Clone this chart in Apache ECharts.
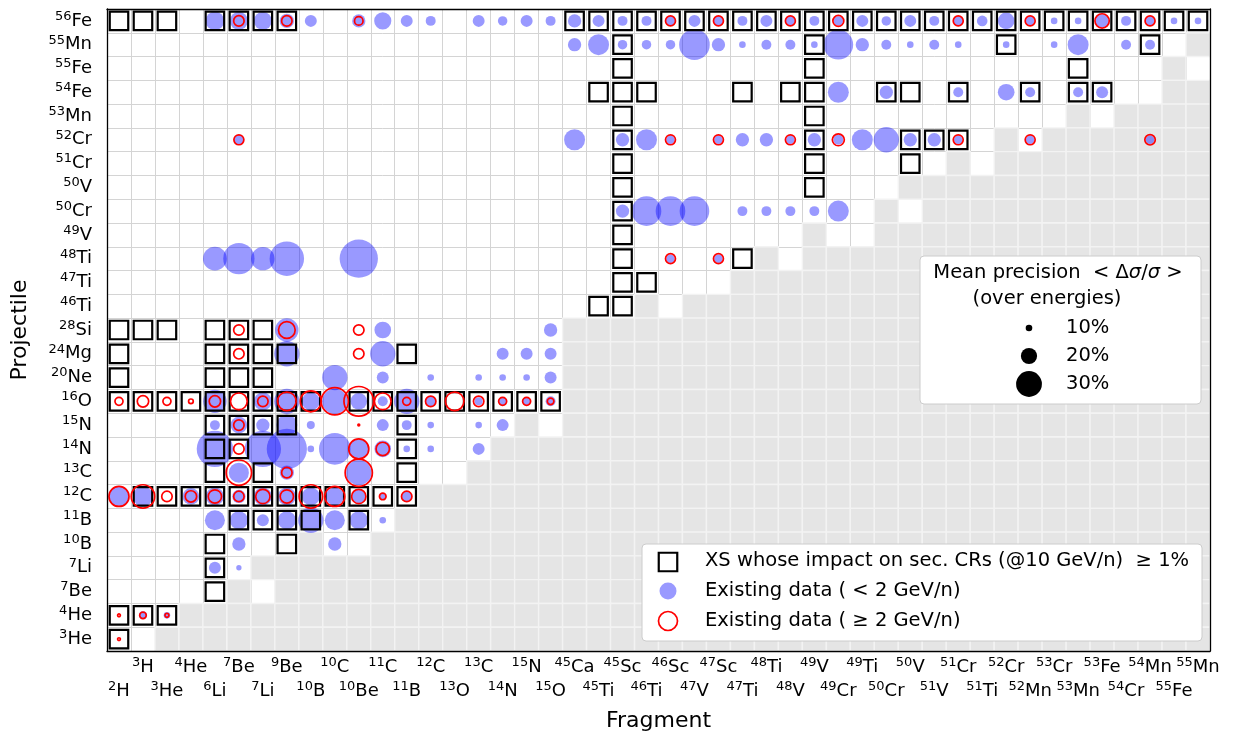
<!DOCTYPE html>
<html>
<head>
<meta charset="utf-8">
<script src="https://cdn.jsdelivr.net/npm/echarts@6/dist/echarts.min.js"></script>
<style>
html, body { margin: 0; padding: 0; background: #fff; }
#main { width: 1234px; height: 738px; }
</style>
</head>
<body>
<div id="main"></div>
<script>
// fragments (x axis), left to right
var fragments = ['2H','3H','3He','4He','6Li','7Be','7Li','9Be','10B','10C','10Be','11C','11B','12C','13O','13C','14N','15N','15O',
  '45Ca','45Ti','45Sc','46Ti','46Sc','47V','47Sc','47Ti','48Ti','48V','49V','49Cr','49Ti','50Cr','50V','51V','51Cr','51Ti',
  '52Cr','52Mn','53Cr','53Mn','53Fe','54Cr','54Mn','55Fe','55Mn'];

// projectiles (y axis), top to bottom
var projectiles = ['56Fe','55Mn','55Fe','54Fe','53Mn','52Cr','51Cr','50V','50Cr','49V','48Ti','47Ti','46Ti',
  '28Si','24Mg','20Ne','16O','15N','14N','13C','12C','11B','10B','7Li','7Be','4He','3He'];

// grey (not relevant) cells, one string per projectile, one char per fragment
var greyMask = [
  '0000000000 0000000000 0000000000 0000000000 000000',
  '0000000000 0000000000 0000000000 0000000000 000001',
  '0000000000 0000000000 0000000000 0000000000 000010',
  '0000000000 0000000000 0000000000 0000000000 000011',
  '0000000000 0000000000 0000000000 0000000000 101111',
  '0000000000 0000000000 0000000000 0000000101 111111',
  '0000000000 0000000000 0000000000 0000010111 111111',
  '0000000000 0000000000 0000000000 0001111111 111111',
  '0000000000 0000000000 0000000000 0010111111 111111',
  '0000000000 0000000000 0000000001 0011111111 111111',
  '0000000000 0000000000 0000000101 1111111111 111111',
  '0000000000 0000000000 0000001111 1111111111 111111',
  '0000000000 0000000000 0010111111 1111111111 111111',
  '0000000000 0000000001 1111111111 1111111111 111111',
  '0000000000 0000000001 1111111111 1111111111 111111',
  '0000000000 0000000001 1111111111 1111111111 111111',
  '0000000000 0000000001 1111111111 1111111111 111111',
  '0000000000 0000000101 1111111111 1111111111 111111',
  '0000000000 0000001111 1111111111 1111111111 111111',
  '0000000000 0000011111 1111111111 1111111111 111111',
  '0000000000 0001111111 1111111111 1111111111 111111',
  '0000000000 0011111111 1111111111 1111111111 111111',
  '0000000010 0111111111 1111111111 1111111111 111111',
  '0000001111 1111111111 1111111111 1111111111 111111',
  '0000010111 1111111111 1111111111 1111111111 111111',
  '0001111111 1111111111 1111111111 1111111111 111111',
  '0011111111 1111111111 1111111111 1111111111 111111'
];

// XS whose impact on secondary CRs >= 1%  [projectile, fragments]
var xsImpact = [
  ['56Fe', ['2H','3H','3He','6Li','7Be','7Li','9Be','45Ca','45Ti','45Sc','46Ti','46Sc','47V','47Sc','47Ti','48Ti','48V','49V',
            '49Cr','49Ti','50Cr','50V','51V','51Cr','51Ti','52Cr','52Mn','53Cr','53Mn','53Fe','54Cr','54Mn','55Fe','55Mn']],
  ['55Mn', ['45Sc','49V','52Cr','54Mn']],
  ['55Fe', ['45Sc','49V','53Mn']],
  ['54Fe', ['45Ti','45Sc','46Ti','47Ti','48V','49V','50Cr','50V','51Cr','52Mn','53Mn','53Fe']],
  ['53Mn', ['45Sc','49V']],
  ['52Cr', ['45Sc','49V','50V','51V','51Cr']],
  ['51Cr', ['45Sc','49V','50V']],
  ['50V',  ['45Sc','49V']],
  ['50Cr', ['45Sc']],
  ['49V',  ['45Sc']],
  ['48Ti', ['45Sc','47Ti']],
  ['47Ti', ['45Sc','46Ti']],
  ['46Ti', ['45Ti','45Sc']],
  ['28Si', ['2H','3H','3He','6Li','7Be','7Li']],
  ['24Mg', ['2H','6Li','7Be','7Li','9Be','11B']],
  ['20Ne', ['2H','6Li','7Be','7Li']],
  ['16O',  ['2H','3H','3He','4He','6Li','7Be','7Li','9Be','10B','10Be','11C','11B','12C','13O','13C','14N','15N','15O']],
  ['15N',  ['6Li','7Be','7Li','9Be','11B']],
  ['14N',  ['6Li','7Be','11B']],
  ['13C',  ['6Li','7Li','11B']],
  ['12C',  ['3H','3He','4He','6Li','7Be','7Li','9Be','10B','10C','10Be','11C','11B']],
  ['11B',  ['7Be','7Li','9Be','10B','10Be']],
  ['10B',  ['6Li','9Be']],
  ['7Li',  ['6Li']],
  ['7Be',  ['6Li']],
  ['4He',  ['2H','3H','3He']],
  ['3He',  ['2H']]
];

// existing data < 2 GeV/n : [projectile, [fragment, mean precision %], ...]
var lowEnergy = [
  ['56Fe', [['6Li',22.5],['7Be',22],['7Li',22],['9Be',18],['10B',15.6],['10Be',17],['11C',21],['11B',15.6],['12C',13.5],
            ['13C',15.6],['14N',13],['15N',15.6],['15O',13.5],['45Ca',17],['45Ti',15.6],['45Sc',13.5],['46Ti',13.5],['46Sc',13],
            ['47V',15.6],['47Sc',13],['47Ti',13.5],['48Ti',15.6],['48V',13],['49V',13.5],['49Cr',13],['49Ti',15.6],['50Cr',13],
            ['50V',15.6],['51V',13.5],['51Cr',13],['51Ti',14.2],['52Cr',20.5],['52Mn',12.5],['53Cr',10],['53Mn',10],['53Fe',17],
            ['54Cr',13.5],['54Mn',12.5],['55Fe',10],['55Mn',10]]],
  ['55Mn', [['45Ca',17],['45Ti',25],['45Sc',13],['46Ti',13],['46Sc',13],['47V',35],['47Sc',17],['47Ti',10],['48Ti',13.5],
            ['48V',13.5],['49V',10],['49Cr',34],['49Ti',17],['50Cr',13.5],['50V',10],['51V',13.5],['51Cr',10],['52Cr',10],
            ['53Cr',10],['53Mn',25],['54Cr',13.5],['54Mn',13.5]]],
  ['54Fe', [['49Cr',25],['50Cr',17],['51Cr',13.5],['52Cr',20.5],['52Mn',13.5],['53Mn',13.5],['53Fe',15.6]]],
  ['52Cr', [['7Be',13.5],['45Ca',25],['45Sc',17],['46Ti',25],['46Sc',12],['47Sc',12],['47Ti',17],['48Ti',17],['48V',12],
            ['49V',17],['49Cr',13.5],['49Ti',25],['50Cr',29.5],['50V',17],['51V',17],['51Cr',12],['52Mn',12],['54Mn',12]]],
  ['50Cr', [['45Sc',17],['46Ti',34],['46Sc',34],['47V',34],['47Ti',13.5],['48Ti',13.5],['48V',13.5],['49V',13.5],['49Cr',25]]],
  ['48Ti', [['6Li',28],['7Be',35.7],['7Li',27.5],['9Be',39],['10Be',43],['46Sc',12],['47Sc',12]]],
  ['28Si', [['9Be',27.5],['11C',20.5],['15O',17]]],
  ['24Mg', [['9Be',29.5],['11C',29.5],['14N',15.6],['15N',15.6],['15O',15.6]]],
  ['20Ne', [['10C',29.5],['11C',15.6],['12C',10],['13C',10],['14N',10],['15N',10],['15O',15.6]]],
  ['16O',  [['6Li',27.5],['7Li',22],['9Be',29.5],['10B',22],['10C',29.5],['10Be',20.5],['11C',13.5],['11B',29.5],['12C',13.5],
            ['13C',11.5],['14N',11.5],['15N',11],['15O',13.5]]],
  ['15N',  [['6Li',13.5],['7Be',20.5],['7Li',17],['9Be',25],['10B',11.5],['11C',15.6],['11B',13.5],['12C',10],['13C',10],['14N',15.6]]],
  ['14N',  [['6Li',41],['7Li',41],['9Be',45],['10B',10],['10C',36],['10Be',24],['11C',20.5],['11B',10],['12C',10],['13C',15.6]]],
  ['13C',  [['7Be',24],['9Be',18],['10Be',29.5]]],
  ['12C',  [['2H',24],['3H',24],['4He',20.5],['6Li',22],['7Be',17],['7Li',22],['9Be',22],['10B',22],['10C',22],['10Be',17],
            ['11C',10],['11B',13.5]]],
  ['11B',  [['6Li',24],['7Be',22],['7Li',15.6],['9Be',22],['10B',29.5],['10C',24],['10Be',22],['11C',10]]],
  ['10B',  [['7Be',17],['10C',17]]],
  ['7Li',  [['6Li',15.6],['7Be',8.7]]],
  ['4He',  [['3H',11.5],['3He',10]]]
];

// existing data >= 2 GeV/n
var highEnergy = [
  ['56Fe', [['7Be',14],['9Be',14],['10Be',12],['46Sc',13.5],['47Sc',13.5],['48V',13.5],['49Cr',14.5],['51Cr',13.5],
            ['52Mn',13.5],['53Fe',18],['54Mn',13.5]]],
  ['52Cr', [['7Be',13.5],['46Sc',13.5],['47Sc',13.5],['48V',13.5],['49Cr',15.6],['51Cr',13.5],['52Mn',13.5],['54Mn',14]]],
  ['48Ti', [['46Sc',13.5],['47Sc',13.5]]],
  ['28Si', [['7Be',14],['9Be',20.5],['10Be',14]]],
  ['24Mg', [['7Be',14],['10Be',14]]],
  ['16O',  [['2H',11.5],['3H',15],['3He',11.5],['4He',8],['6Li',15],['7Be',20.5],['7Li',14],['9Be',22.5],['10B',25],
            ['10C',31.5],['10Be',34],['11C',20.5],['11B',11.5],['12C',14],['13O',22.5],['13C',14],['14N',11.5],['15N',11.5],['15O',10]]],
  ['15N',  [['7Be',14],['10Be',5]]],
  ['14N',  [['7Be',14],['10Be',24],['11C',17]]],
  ['13C',  [['7Be',29.5],['9Be',14],['10Be',31.5]]],
  ['12C',  [['2H',24],['3H',27.5],['3He',14],['4He',15],['6Li',17],['7Be',14],['7Li',18],['9Be',17],['10B',27.5],
            ['10C',24],['10Be',18],['11C',10],['11B',14]]],
  ['4He',  [['2H',6],['3H',10],['3He',7.3]]],
  ['3He',  [['2H',6]]]
];

// size legend values (%)
var precisionLegend = [10, 20, 30];

var FONT = 'DejaVu Sans';
var BLUE = 'rgba(0,0,255,0.4)';
var LEG_FS = 19.5;

// marker diameter (px) from mean precision (%)
function precSize(p) {
  return 2 * Math.max(0.48 * p - 1.5, 0.9);
}

function isoLabel(v) {
  var m = /^(\d+)(.*)$/.exec(v);
  return '{s|' + m[1] + '}{e|' + m[2] + '}';
}

var labelRich = {
  s: { fontSize: 13, lineHeight: 10, verticalAlign: 'top', fontFamily: FONT, color: '#000' },
  e: { fontSize: 18, lineHeight: 22, fontFamily: FONT, color: '#000' }
};

// build series data
var greyData = [];
greyMask.forEach(function (row, i) {
  var s = row.replace(/ /g, '');
  for (var c = 0; c < s.length; c++) {
    if (s.charAt(c) === '1') greyData.push([fragments[c], projectiles[i]]);
  }
});

var squareData = [];
xsImpact.forEach(function (r) {
  r[1].forEach(function (f) { squareData.push([f, r[0]]); });
});

function flatten(list) {
  var out = [];
  list.forEach(function (r) {
    r[1].forEach(function (d) { out.push([d[0], r[0], d[1]]); });
  });
  return out;
}
var blueData = flatten(lowEnergy);
var redData = flatten(highEnergy);

var chart = echarts.init(document.getElementById('main'));

var gridL = 107, gridT = 9, gridW = 1103, gridH = 642;
var cellW = gridW / fragments.length, cellH = gridH / projectiles.length;

var axisLineStyle = { color: '#000', width: 1.3 };
var tickStyle = { color: '#000', width: 1.2 };

var option = {
  animation: false,
  backgroundColor: '#fff',
  grid: { left: gridL, top: gridT, width: gridW, height: gridH },
  xAxis: [
    {
      type: 'category', data: fragments, position: 'bottom', z: 10,
      axisLine: { lineStyle: axisLineStyle },
      axisTick: { length: 5, interval: 0, lineStyle: tickStyle },
      splitLine: { show: false },
      axisLabel: {
        interval: function (i) { return i % 2 === 0; },
        margin: 29, formatter: isoLabel, rich: labelRich
      },
      name: 'Fragment', nameLocation: 'middle', nameGap: 59,
      nameTextStyle: { fontFamily: FONT, fontSize: 22, color: '#000' }
    },
    {
      type: 'category', data: fragments, position: 'bottom', z: 10,
      axisLine: { show: false }, axisTick: { show: false }, splitLine: { show: false },
      axisLabel: {
        interval: function (i) { return i % 2 === 1; },
        margin: 5, formatter: isoLabel, rich: labelRich
      }
    },
    {
      type: 'category', data: fragments, position: 'top', z: 10,
      axisLine: { lineStyle: axisLineStyle },
      axisTick: { length: 4, interval: 0, lineStyle: tickStyle },
      axisLabel: { show: false }, splitLine: { show: false }
    },
    {
      // grid lines only, under the cells
      type: 'category', data: fragments, position: 'bottom', z: 0,
      axisLine: { show: false }, axisTick: { show: false }, axisLabel: { show: false },
      splitLine: { show: true, interval: 0, lineStyle: { color: '#d4d4d4', width: 1 } }
    }
  ],
  yAxis: [
    {
      type: 'category', data: projectiles, inverse: true, position: 'left', z: 10,
      axisLine: { lineStyle: axisLineStyle },
      axisTick: { length: 4, interval: 0, lineStyle: tickStyle },
      splitLine: { show: false },
      axisLabel: { interval: 0, margin: 15, formatter: isoLabel, rich: labelRich },
      name: 'Projectile', nameLocation: 'middle', nameGap: 76, nameRotate: 90,
      nameTextStyle: { fontFamily: FONT, fontSize: 22, color: '#000' }
    },
    {
      type: 'category', data: projectiles, inverse: true, position: 'right', z: 10,
      axisLine: { lineStyle: axisLineStyle },
      axisTick: { length: 4, interval: 0, lineStyle: tickStyle },
      axisLabel: { show: false }, splitLine: { show: false }
    },
    {
      type: 'category', data: projectiles, inverse: true, position: 'left', z: 0,
      axisLine: { show: false }, axisTick: { show: false }, axisLabel: { show: false },
      splitLine: { show: true, interval: 0, lineStyle: { color: '#d4d4d4', width: 1 } }
    }
  ],
  series: [
    {
      name: 'grey', type: 'scatter', z: 1, silent: true,
      symbol: 'rect', symbolSize: [cellW, cellH],
      itemStyle: { color: '#e5e5e5', borderColor: '#f3f3f3', borderWidth: 1.4, opacity: 1 },
      data: greyData
    },
    {
      name: 'Existing data ( < 2 GeV/n)', type: 'scatter', z: 2,
      symbol: 'circle',
      symbolSize: function (v) { return precSize(v[2]); },
      itemStyle: { color: BLUE, opacity: 1 },
      data: blueData
    },
    {
      name: 'XS whose impact on sec. CRs (@10 GeV/n) \u2265 1%', type: 'scatter', z: 3,
      symbol: 'rect', symbolSize: 18.5,
      itemStyle: { color: 'rgba(255,255,255,0)', borderColor: '#000', borderWidth: 2.2, opacity: 1 },
      data: squareData
    },
    {
      name: 'Existing data ( \u2265 2 GeV/n)', type: 'scatter', z: 4,
      symbol: 'circle',
      symbolSize: function (v) { return precSize(v[2]); },
      itemStyle: { color: 'rgba(255,255,255,0)', borderColor: '#ff0000', borderWidth: 1.7, opacity: 1 },
      data: redData
    }
  ]
};

// legend boxes drawn as graphic elements
var legendEls = [];

// size legend
legendEls.push({ type: 'rect', z: 100, shape: { x: 920, y: 256, width: 281, height: 148, r: 4 },
  style: { fill: '#fff', stroke: '#cccccc', lineWidth: 1 } });
legendEls.push({ type: 'text', z: 101, x: 1058, y: 273,
  style: { text: '{n|Mean precision  < \u0394}{i|\u03c3}{n|/}{i|\u03c3}{n| >}', align: 'center', verticalAlign: 'middle',
    rich: { n: { fontFamily: FONT, fontSize: LEG_FS, fill: '#000' },
            i: { fontFamily: FONT, fontSize: LEG_FS, fontStyle: 'italic', fill: '#000' } } } });
legendEls.push({ type: 'text', z: 101, x: 1047, y: 299,
  style: { text: '(over energies)', align: 'center', verticalAlign: 'middle', fontFamily: FONT, fontSize: LEG_FS, fill: '#000' } });
precisionLegend.forEach(function (p, i) {
  var y = 328 + i * 28;
  legendEls.push({ type: 'circle', z: 101, shape: { cx: 1029, cy: y, r: precSize(p) / 2 }, style: { fill: '#000' } });
  legendEls.push({ type: 'text', z: 101, x: 1066, y: y,
    style: { text: p + '%', verticalAlign: 'middle', fontFamily: FONT, fontSize: LEG_FS, fill: '#000' } });
});

// marker legend
legendEls.push({ type: 'rect', z: 100, shape: { x: 642, y: 544, width: 560, height: 97, r: 4 },
  style: { fill: '#fff', stroke: '#cccccc', lineWidth: 1 } });
legendEls.push({ type: 'rect', z: 101, shape: { x: 668 - 9.25, y: 562 - 9.25, width: 18.5, height: 18.5 },
  style: { fill: 'rgba(0,0,0,0)', stroke: '#000', lineWidth: 2.2 } });
legendEls.push({ type: 'circle', z: 101, shape: { cx: 668, cy: 591, r: 8.5 }, style: { fill: BLUE } });
legendEls.push({ type: 'circle', z: 101, shape: { cx: 668, cy: 621, r: 9.5 },
  style: { fill: 'rgba(0,0,0,0)', stroke: '#ff0000', lineWidth: 1.7 } });
[['XS whose impact on sec. CRs (@10 GeV/n)  \u2265 1%', 561],
 ['Existing data ( < 2 GeV/n)', 591],
 ['Existing data ( \u2265 2 GeV/n)', 621]].forEach(function (t) {
  legendEls.push({ type: 'text', z: 101, x: 705, y: t[1],
    style: { text: t[0], verticalAlign: 'middle', fontFamily: FONT, fontSize: LEG_FS, fill: '#000' } });
});

option.graphic = { elements: legendEls };

chart.setOption(option);

window.addEventListener('resize', function () {
  chart.resize();
});
</script>
</body>
</html>
